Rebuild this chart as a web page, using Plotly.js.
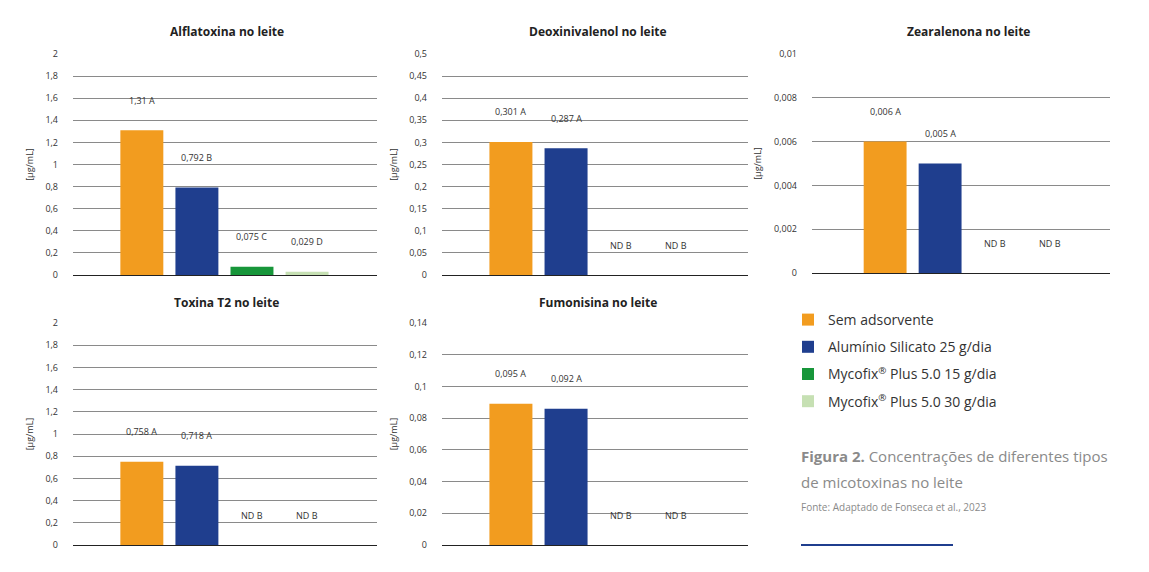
<!DOCTYPE html>
<html>
<head>
<meta charset="utf-8">
<script src="https://cdn.plot.ly/plotly-3.0.1.min.js"></script>
<style>body{margin:0;background:#fff}#chart{width:1149px;height:572px}</style>
</head>
<body>
<div id="chart"></div>
<script>
// data
const series = ["Sem adsorvente", "Alumínio Silicato 25 g/dia", "Mycofix<sup>®</sup> Plus 5.0 15 g/dia", "Mycofix<sup>®</sup> Plus 5.0 30 g/dia"];
const colorsBar = ["#f29c1f", "#1f3e8e", "#17963a", "#c6e0b3"];
const titles = ["Alflatoxina no leite", "Deoxinivalenol no leite", "Zearalenona no leite", "Toxina T2 no leite", "Fumonisina no leite"];
const alfaVals = [1.31, 0.792, 0.075, 0.029];
const alfaLabels = ["1,31 A", "0,792 B", "0,075 C", "0,029 D"];
const donVals = [0.301, 0.287, 0, 0];
const donLabels = ["0,301 A", "0,287 A", "ND B", "ND B"];
const zeaVals = [0.006, 0.005, 0, 0];
const zeaLabels = ["0,006 A", "0,005 A", "ND B", "ND B"];
const t2Vals = [0.75, 0.714, 0, 0];
const t2Labels = ["0,758 A", "0,718 A", "ND B", "ND B"];
const fumVals = [0.089, 0.086, 0, 0];
const fumLabels = ["0,095 A", "0,092 A", "ND B", "ND B"];
const yMax = [2, 0.5, 0.01, 2, 0.14];
const yStep = [0.2, 0.05, 0.002, 0.2, 0.02];

const panels = [alfaVals, donVals, zeaVals, t2Vals, fumVals];
const labels = [alfaLabels, donLabels, zeaLabels, t2Labels, fumLabels];
const W = 1149, H = 572;
const px = (a, b) => [a / W, b / W];
const py = (top, bot) => [1 - bot / H, 1 - top / H];
const boxes = [
  {x: px(73, 377), y: py(54, 275), r: [-1.25, 4.27], tx: 227, ty: 32},
  {x: px(442, 748), y: py(54, 275), r: [-1.25, 4.3], tx: 598, ty: 32},
  {x: px(812, 1110), y: py(54, 273), r: [-1.33, 4.09], tx: 968, ty: 32},
  {x: px(73, 377), y: py(323, 545), r: [-1.25, 4.27], tx: 226, ty: 302},
  {x: px(442, 748), y: py(323, 545), r: [-1.25, 4.3], tx: 598, ty: 302}
];

const traces = [];
const layout = {
  width: W, height: H, margin: {l: 0, r: 0, t: 0, b: 0},
  paper_bgcolor: "#fff", plot_bgcolor: "#fff",
  separators: ",.",
  font: {family: "Open Sans, sans-serif", color: "#333"},
  annotations: [], shapes: [],
  legend: {x: 788 / W, y: 1 - 304 / H, xanchor: "left", yanchor: "top",
    font: {size: 14, color: "#333"}, tracegroupgap: 6, itemwidth: 30},
  showlegend: true
};

panels.forEach((vals, p) => {
  const s = p === 0 ? "" : String(p + 1);
  vals.forEach((v, i) => {
    traces.push({
      type: "bar", x: [i], y: [v], width: 0.78,
      marker: {color: colorsBar[i]},
      xaxis: "x" + s, yaxis: "y" + s,
      name: series[i], legendgroup: "g" + i,
      showlegend: p === 0, hoverinfo: "skip"
    });
    layout.annotations.push({
      xref: "x" + s, yref: "y" + s, x: i, y: v, text: labels[p][i],
      showarrow: false, yshift: 30, font: {size: 9, color: "#333"}
    });
  });
  const b = boxes[p];
  layout["xaxis" + s] = {domain: b.x, range: b.r, showticklabels: false, showgrid: false,
    zeroline: false, showline: true, linecolor: "#222", linewidth: 1, anchor: "y" + s, fixedrange: true};
  layout["yaxis" + s] = {domain: b.y, range: [0, yMax[p]], dtick: yStep[p], anchor: "x" + s,
    showgrid: true, gridcolor: "#8a8a8a", gridwidth: 1, zeroline: false,
    tickfont: {size: 9, color: "#333"}, ticks: "", ticklabelstandoff: 14,
    title: {text: "[µg/mL]", font: {size: 9, color: "#333"}, standoff: 10}};
  layout.annotations.push({xref: "paper", yref: "paper", x: b.tx / W, y: 1 - b.ty / H,
    xanchor: "center", yanchor: "middle",
    text: "<b>" + titles[p] + "</b>", showarrow: false, font: {size: 12, color: "#222"}});
});

layout.annotations.push(
  {xref: "paper", yref: "paper", x: 799 / W, y: 1 - 456 / H, xanchor: "left", yanchor: "middle", align: "left",
    text: "<b>Figura 2.</b> Concentrações de diferentes tipos", showarrow: false, font: {size: 15, color: "#8a8a8a"}},
  {xref: "paper", yref: "paper", x: 799 / W, y: 1 - 482 / H, xanchor: "left", yanchor: "middle", align: "left",
    text: "de micotoxinas no leite", showarrow: false, font: {size: 15, color: "#8a8a8a"}},
  {xref: "paper", yref: "paper", x: 799 / W, y: 1 - 507 / H, xanchor: "left", yanchor: "middle", align: "left",
    text: "Fonte: Adaptado de Fonseca et al., 2023", showarrow: false, font: {size: 10, color: "#8a8a8a"}}
);
layout.shapes.push({type: "line", xref: "paper", yref: "paper", x0: 801 / W, x1: 953 / W,
  y0: 1 - 545 / H, y1: 1 - 545 / H, line: {color: "#1f3e8e", width: 2}});

Plotly.newPlot("chart", traces, layout, {displayModeBar: false, staticPlot: true});
</script>
</body>
</html>
